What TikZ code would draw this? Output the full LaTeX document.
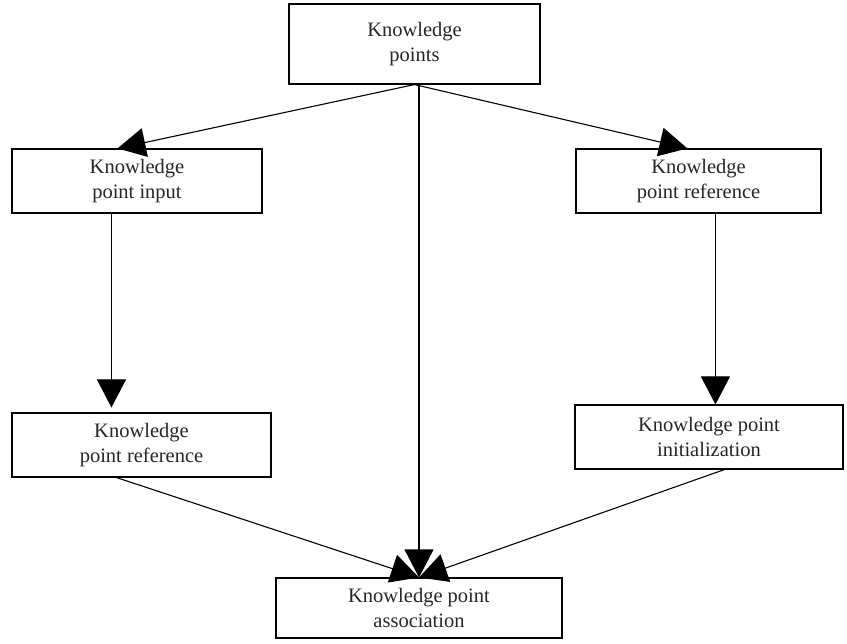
\documentclass[tikz,border=0pt]{standalone}
\usepackage{fontspec}
\setmainfont{Liberation Serif}
\usetikzlibrary{arrows.meta}
\begin{document}
\begin{tikzpicture}[x=1pt,y=-1pt,
  box/.style={draw, line width=1.1pt, inner sep=0pt, align=center,
    font=\fontsize{20.5}{25}\selectfont, text=black!85},
  conn/.style={line width=1.1pt, -{Triangle[length=28pt,width=29pt]}}]
\useasboundingbox (0,0) rectangle (847,644);
\node[box, minimum width=251pt, minimum height=80pt] (top) at (414.5,44) {Knowledge\\points};
\node[box, minimum width=250pt, minimum height=64pt] (L1) at (137,181) {Knowledge\\point input};
\node[box, minimum width=245pt, minimum height=64pt] (R1) at (698.5,181) {Knowledge\\point reference};
\node[box, minimum width=259pt, minimum height=64pt] (L2) at (141.5,445) {Knowledge\\point reference};
\node[box, minimum width=268pt, minimum height=64pt] (R2) at (709,437) {Knowledge point\\initialization};
\node[box, minimum width=286pt, minimum height=60pt] (bot) at (419,608) {Knowledge point\\association};
\draw[conn] (top.south) -- ([xshift=106pt]L1.north west);
\draw[conn] (top.south) -- ([xshift=112pt]R1.north west);
\draw[conn] (top.south -| bot.north) -- (bot.north);
\draw[conn] ([xshift=100pt]L1.south west) -- ([xshift=100pt,yshift=5pt]L2.north west);
\draw[conn] ([xshift=140pt]R1.south west) -- ([xshift=141pt]R2.north west);
\draw[conn] ([xshift=105pt]L2.south west) -- (bot.north);
\draw[conn] ([xshift=150pt]R2.south west) -- (bot.north);
\end{tikzpicture}
\end{document}
